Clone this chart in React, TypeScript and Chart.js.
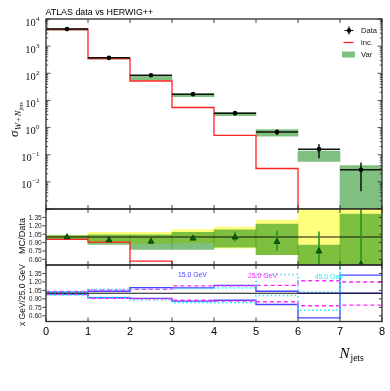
import React, { useEffect, useRef } from "react";
import { Chart, registerables } from "chart.js";

Chart.register(...registerables);

// ---------- layout ----------
const W = 390;
const H = 391;
const PLOT_LEFT = 46;
const PLOT_RIGHT = 382;
const TOP_PANEL = [19, 209];
const MID_PANEL = [209, 265];
const BOT_PANEL = [265, 321.5];

// ---------- data ----------
const BIN_EDGES = [0, 1, 2, 3, 4, 5, 6, 7, 8];
const BIN_CENTERS = [0.5, 1.5, 2.5, 3.5, 4.5, 5.5, 6.5, 7.5];
const X_TICKS = [0, 1, 2, 3, 4, 5, 6, 7, 8];
const X_TICK_LABELS = ["0", "1", "2", "3", "4", "5", "6", "7", "8"];

const LOG_MIN_EXP = -3;
const LOG_MAX_EXP = 4;
const LOG_LABEL_EXPS = [-2, -1, 0, 1, 2, 3, 4];
const RATIO_TICKS = [0.6, 0.75, 0.9, 1.05, 1.2, 1.35];
const RATIO_TICK_LABELS = ["0.60", "0.75", "0.90", "1.05", "1.20", "1.35"];

// top panel: data, inc. prediction, Var envelope
const DATA_Y = [4250, 370, 85, 17, 3.4, 0.68, 0.16, 0.028];
const DATA_LO = [4050, 352, 80, 15.8, 3.05, 0.53, 0.074, 0.0045];
const DATA_HI = [4450, 388, 90, 18.2, 3.75, 0.85, 0.245, 0.052];
const INC = [4100, 345, 52, 5.5, 0.52, 0.031, 1e-5, 1e-5];
const VAR_LO = [3900, 330, 56, 13.7, 2.75, 0.48, 0.057, 1e-5];
const VAR_HI = [4400, 375, 83, 17.5, 3.6, 0.85, 0.135, 0.04];

// middle panel: MC/Data
const RATIO_Y = [1.0, 0.945, 0.92, 0.975, 0.995, 0.915, 0.745, 0.51];
const RATIO_LO = [0.985, 0.925, 0.9, 0.955, 0.92, 0.75, 0.45, 0.2];
const RATIO_HI = [1.015, 0.965, 0.94, 0.995, 1.1, 1.11, 1.1, 1.48];
const YELLOW_LO = [0.975, 0.895, 0.885, 0.895, 0.8, 0.685, 0.3, 0.3];
const YELLOW_HI = [1.03, 1.085, 1.085, 1.133, 1.176, 1.3, 1.7, 1.7];
const GREEN_LO = [0.96, 0.867, 0.776, 0.776, 0.82, 0.685, 0.3, 0.3];
const GREEN_HI = [1.025, 1.04, 1.04, 1.085, 1.127, 1.23, 0.855, 1.41];
const INC_RATIO = [0.958, 0.91, 0.57, 0.32, 0.15, 0.046, 0.0, 0.0];
const REF_LINE = 1.0;

// bottom panel: cut variations
const BLUE_A = [1.02, 1.035, 1.1, 1.095, 1.14, 1.036, 1.0, 1.0];
const BLUE_B = [0.98, 0.92, 0.91, 0.86, 0.875, 0.8, 0.565, 1.32];
const MAG_A = [1.03, 1.06, 1.07, 1.13, 1.13, 1.14, 1.22, 1.2];
const MAG_B = [0.975, 0.91, 0.9, 0.875, 0.86, 0.85, 0.78, 0.79];
const CYAN_A = [1.02, 1.07, 1.08, 1.08, 1.095, 1.33, 1.02, 2.0];
const CYAN_B = [0.97, 0.93, 0.88, 0.83, 0.83, 0.96, 0.7, 2.0];
const CUT_LABELS = ["15.0 GeV", "25.0 GeV", "45.0 GeV"];
const CUT_LABEL_POS = [
  [3.14, 1.325],
  [4.81, 1.305],
  [6.4, 1.29],
];

// ---------- styles ----------
const SANS = "'Liberation Sans', Arial, sans-serif";
const SERIF = "'Liberation Serif', 'Times New Roman', serif";
const FRAME = "#2a2a2a";
const GREEN = "rgba(0,128,0,0.5)";
const YELLOW = "rgba(255,255,0,0.5)";
const RED = "rgb(255,35,35)";
const BLUE = "rgb(70,70,255)";
const MAGENTA = "rgb(255,40,255)";
const CYAN = "rgb(40,235,245)";

function fontStr(style: string, size: number, family: string) {
  return (style ? style + " " : "") + size.toFixed(2) + "px " + family;
}

function fitFont(ctx: CanvasRenderingContext2D, text: string, family: string, target: number, style = "") {
  ctx.font = fontStr(style, 10, family);
  const w = ctx.measureText(text).width || 1;
  const f = fontStr(style, (10 * target) / w, family);
  ctx.font = f;
  return f;
}

function stepPoints(vals: number[]) {
  const pts = vals.map((v, i) => ({ x: BIN_EDGES[i], y: v }));
  pts.push({ x: BIN_EDGES[BIN_EDGES.length - 1], y: vals[vals.length - 1] });
  return pts;
}

function band(lo: number[], hi: number[]) {
  return BIN_CENTERS.map((x, i) => ({ x, y: [lo[i], hi[i]] }));
}

function stepLine(vals: number[], color: string, width: number, dash: number[], order: number) {
  return {
    type: "line",
    data: stepPoints(vals),
    stepped: "before",
    borderColor: color,
    borderWidth: width,
    borderDash: dash,
    pointRadius: 0,
    fill: false,
    clip: 0,
    order,
  };
}

function bandSet(lo: number[], hi: number[], color: string, order: number) {
  return {
    type: "bar",
    data: band(lo, hi),
    backgroundColor: color,
    borderWidth: 0,
    grouped: false,
    barPercentage: 1,
    categoryPercentage: 1,
    clip: 0,
    order,
  };
}

function baseOptions(panel: number[], yScale: any) {
  return {
    responsive: false,
    animation: false,
    devicePixelRatio: 1,
    events: [],
    layout: {
      padding: {
        left: PLOT_LEFT,
        right: W - PLOT_RIGHT,
        top: panel[0],
        bottom: H - panel[1],
      },
    },
    plugins: {
      legend: { display: false },
      tooltip: { enabled: false },
      title: { display: false },
    },
    scales: {
      x: { type: "linear", min: 0, max: 8, display: false, offset: false },
      y: { ...yScale, display: false },
    },
  };
}

function drawFrameAndXTicks(chart: any) {
  const ctx = chart.ctx;
  const { left, right, top, bottom } = chart.chartArea;
  ctx.strokeStyle = FRAME;
  ctx.lineWidth = 1.3;
  ctx.strokeRect(left, top, right - left, bottom - top);
  ctx.lineWidth = 0.9;
  const xs = chart.scales.x;
  ctx.beginPath();
  for (const t of X_TICKS) {
    const px = xs.getPixelForValue(t);
    ctx.moveTo(px, top);
    ctx.lineTo(px, top + 4);
    ctx.moveTo(px, bottom);
    ctx.lineTo(px, bottom - 4);
  }
  ctx.stroke();
}

function drawRatioTicks(chart: any) {
  const ctx = chart.ctx;
  const { left, right } = chart.chartArea;
  const ys = chart.scales.y;
  ctx.strokeStyle = FRAME;
  ctx.lineWidth = 0.9;
  ctx.beginPath();
  RATIO_TICKS.forEach((t) => {
    const py = ys.getPixelForValue(t);
    ctx.moveTo(left - 3.5, py);
    ctx.lineTo(left - 0.5, py);
    ctx.moveTo(right, py);
    ctx.lineTo(right - 3, py);
  });
  ctx.stroke();
  ctx.fillStyle = "#222";
  fitFont(ctx, "1.35", SANS, 13);
  ctx.textAlign = "right";
  ctx.textBaseline = "middle";
  RATIO_TICKS.forEach((t, i) => {
    ctx.fillText(RATIO_TICK_LABELS[i], left - 4.2, ys.getPixelForValue(t) + 0.5);
  });
}

function rotatedText(ctx: CanvasRenderingContext2D, text: string, x: number, y: number, target: number, color: string, align: CanvasTextAlign) {
  ctx.save();
  ctx.translate(x, y);
  ctx.rotate(-Math.PI / 2);
  fitFont(ctx, text, SANS, target);
  ctx.fillStyle = color;
  ctx.textAlign = align;
  ctx.textBaseline = "alphabetic";
  ctx.fillText(text, 0, 0);
  ctx.restore();
}

const topPlugin = {
  id: "topPanel",
  beforeDatasetDraw(chart: any, args: any) {
    if (args.index !== 0) return;
    const ctx = chart.ctx;
    const xs = chart.scales.x;
    const ys = chart.scales.y;
    const a = chart.chartArea;
    ctx.save();
    ctx.beginPath();
    ctx.rect(a.left, a.top, a.right - a.left, a.bottom - a.top);
    ctx.clip();
    ctx.strokeStyle = "#111";
    ctx.lineWidth = 1.5;
    ctx.beginPath();
    for (let i = 0; i < BIN_CENTERS.length; i++) {
      const px = xs.getPixelForValue(BIN_CENTERS[i]);
      const py = ys.getPixelForValue(DATA_Y[i]);
      ctx.moveTo(xs.getPixelForValue(BIN_EDGES[i]), py);
      ctx.lineTo(xs.getPixelForValue(BIN_EDGES[i + 1]), py);
      ctx.moveTo(px, ys.getPixelForValue(DATA_LO[i]));
      ctx.lineTo(px, ys.getPixelForValue(DATA_HI[i]));
    }
    ctx.stroke();
    ctx.restore();
  },
  afterDraw(chart: any) {
    const ctx = chart.ctx;
    const { left, right } = chart.chartArea;
    const ys = chart.scales.y;
    ctx.save();
    drawFrameAndXTicks(chart);
    // log ticks
    ctx.lineWidth = 0.8;
    ctx.beginPath();
    for (let e = LOG_MIN_EXP; e <= LOG_MAX_EXP; e++) {
      const py = ys.getPixelForValue(Math.pow(10, e));
      ctx.moveTo(left, py);
      ctx.lineTo(left + 4.5, py);
      ctx.moveTo(right, py);
      ctx.lineTo(right - 4.5, py);
      if (e < LOG_MAX_EXP) {
        for (let m = 2; m <= 9; m++) {
          const pm = ys.getPixelForValue(m * Math.pow(10, e));
          ctx.moveTo(left, pm);
          ctx.lineTo(left + 2.2, pm);
          ctx.moveTo(right, pm);
          ctx.lineTo(right - 2.2, pm);
        }
      }
    }
    ctx.stroke();
    // labels 10^n
    ctx.fillStyle = "#111";
    ctx.textBaseline = "alphabetic";
    for (const e of LOG_LABEL_EXPS) {
      const py = ys.getPixelForValue(Math.pow(10, e));
      const exp = e < 0 ? "\u2212" + Math.abs(e) : String(e);
      ctx.font = fontStr("", 7, SERIF);
      const ew = ctx.measureText(exp).width;
      const rx = 39.5;
      ctx.textAlign = "left";
      ctx.fillText(exp, rx - ew, py + 1.5);
      ctx.font = fontStr("", 10.5, SERIF);
      ctx.textAlign = "right";
      ctx.fillText("10", rx - ew - 0.3, py + 6.5);
    }
    // title
    fitFont(ctx, "ATLAS data vs HERWIG++", SANS, 108);
    ctx.textAlign = "left";
    ctx.fillStyle = "#000";
    ctx.fillText("ATLAS data vs HERWIG++", 45.5, 15);
    // y title  sigma_{W+N_jets}
    ctx.save();
    ctx.translate(18, 137);
    ctx.rotate(-Math.PI / 2);
    ctx.fillStyle = "#000";
    ctx.textAlign = "left";
    ctx.font = fontStr("italic", 13, SERIF);
    ctx.fillText("\u03c3", 0, 0);
    let xo = ctx.measureText("\u03c3").width + 0.5;
    ctx.font = fontStr("italic", 8.5, SERIF);
    ctx.fillText("W", xo, 3);
    xo += ctx.measureText("W").width + 1;
    ctx.font = fontStr("", 8.5, SERIF);
    ctx.fillText("+", xo, 3);
    xo += ctx.measureText("+").width + 1;
    ctx.font = fontStr("italic", 8.5, SERIF);
    ctx.fillText("N", xo, 3);
    xo += ctx.measureText("N").width;
    ctx.font = fontStr("", 6, SERIF);
    ctx.fillText("jets", xo, 5);
    ctx.restore();
    // legend
    fitFont(ctx, "Data", SANS, 16);
    ctx.fillStyle = "#111";
    ctx.textBaseline = "middle";
    ctx.textAlign = "left";
    ctx.fillText("Data", 361, 30.5);
    ctx.fillText("inc.", 361, 42.5);
    ctx.fillText("Var", 361, 54.5);
    ctx.strokeStyle = "#000";
    ctx.lineWidth = 1.2;
    ctx.beginPath();
    ctx.moveTo(344.5, 30.5);
    ctx.lineTo(353.5, 30.5);
    ctx.moveTo(349, 26.5);
    ctx.lineTo(349, 34.5);
    ctx.stroke();
    ctx.beginPath();
    ctx.arc(349, 30.5, 2.2, 0, Math.PI * 2);
    ctx.fillStyle = "#000";
    ctx.fill();
    ctx.strokeStyle = RED;
    ctx.lineWidth = 1.3;
    ctx.beginPath();
    ctx.moveTo(343.5, 42.5);
    ctx.lineTo(353.5, 42.5);
    ctx.stroke();
    ctx.fillStyle = GREEN;
    ctx.fillRect(342, 51.5, 13, 6);
    ctx.restore();
  },
};

const midPlugin = {
  id: "midPanel",
  beforeDatasetDraw(chart: any, args: any) {
    if (args.index !== 0) return;
    const ctx = chart.ctx;
    const xs = chart.scales.x;
    const ys = chart.scales.y;
    const a = chart.chartArea;
    ctx.save();
    ctx.beginPath();
    ctx.rect(a.left, a.top, a.right - a.left, a.bottom - a.top);
    ctx.clip();
    ctx.strokeStyle = "rgb(40,150,30)";
    ctx.lineWidth = 1.6;
    ctx.beginPath();
    for (let i = 0; i < BIN_CENTERS.length; i++) {
      const px = xs.getPixelForValue(BIN_CENTERS[i]);
      ctx.moveTo(px, ys.getPixelForValue(RATIO_LO[i]));
      ctx.lineTo(px, ys.getPixelForValue(RATIO_HI[i]));
    }
    ctx.stroke();
    ctx.restore();
  },
  afterDraw(chart: any) {
    const ctx = chart.ctx;
    ctx.save();
    drawFrameAndXTicks(chart);
    drawRatioTicks(chart);
    rotatedText(ctx, "MC/Data", 25, 236, 36, "#111", "center");
    ctx.restore();
  },
};

const botPlugin = {
  id: "botPanel",
  afterDraw(chart: any) {
    const ctx = chart.ctx;
    const xs = chart.scales.x;
    const ys = chart.scales.y;
    const { bottom } = chart.chartArea;
    ctx.save();
    drawFrameAndXTicks(chart);
    drawRatioTicks(chart);
    rotatedText(ctx, "x GeV/25.0 GeV", 25, 326, 62, "#111", "left");
    // x tick labels
    ctx.fillStyle = "#000";
    ctx.font = fontStr("", 11, SANS);
    ctx.textAlign = "center";
    ctx.textBaseline = "alphabetic";
    X_TICKS.forEach((t, i) => {
      ctx.fillText(X_TICK_LABELS[i], xs.getPixelForValue(t), bottom + 13.5);
    });
    // N_jets
    ctx.textAlign = "left";
    ctx.font = fontStr("italic", 15, SERIF);
    ctx.fillText("N", 339.5, 358);
    ctx.font = fontStr("", 9.5, SERIF);
    ctx.fillText("jets", 350.5, 360.5);
    // cut labels
    const cols = [BLUE, MAGENTA, CYAN];
    fitFont(ctx, "15.0 GeV", SANS, 29);
    ctx.textBaseline = "middle";
    CUT_LABELS.forEach((lab, i) => {
      ctx.fillStyle = cols[i];
      ctx.fillText(lab, xs.getPixelForValue(CUT_LABEL_POS[i][0]), ys.getPixelForValue(CUT_LABEL_POS[i][1]));
    });
    ctx.restore();
  },
};

function topConfig(): any {
  return {
    type: "bar",
    data: {
      datasets: [
        {
          type: "line",
          data: BIN_CENTERS.map((x, i) => ({ x, y: DATA_Y[i] })),
          showLine: false,
          pointRadius: 2.3,
          pointBackgroundColor: "#000",
          pointBorderWidth: 0,
          order: 0,
        },
        stepLine(INC, RED, 1.3, [], 1),
        bandSet(VAR_LO, VAR_HI, GREEN, 2),
      ],
    },
    options: baseOptions(TOP_PANEL, { type: "logarithmic", min: 1e-3, max: 1e4 }),
    plugins: [topPlugin],
  };
}

function midConfig(): any {
  return {
    type: "bar",
    data: {
      datasets: [
        {
          type: "line",
          data: BIN_CENTERS.map((x, i) => ({ x, y: RATIO_Y[i] })),
          showLine: false,
          pointStyle: "triangle",
          pointRadius: 3.4,
          pointBackgroundColor: "rgb(10,100,10)",
          pointBorderColor: "rgb(0,55,0)",
          pointBorderWidth: 0.8,
          order: 0,
        },
        {
          type: "line",
          data: [
            { x: 0, y: REF_LINE },
            { x: 8, y: REF_LINE },
          ],
          borderColor: "#111",
          borderWidth: 1.2,
          pointRadius: 0,
          clip: 0,
          order: 1,
        },
        stepLine(INC_RATIO, RED, 1.3, [], 2),
        bandSet(GREEN_LO, GREEN_HI, GREEN, 3),
        bandSet(YELLOW_LO, YELLOW_HI, YELLOW, 4),
      ],
    },
    options: baseOptions(MID_PANEL, { type: "linear", min: 0.5, max: 1.5 }),
    plugins: [midPlugin],
  };
}

function botConfig(): any {
  return {
    type: "line",
    data: {
      datasets: [
        {
          type: "line",
          data: [
            { x: 0, y: REF_LINE },
            { x: 8, y: REF_LINE },
          ],
          borderColor: "#111",
          borderWidth: 1.2,
          pointRadius: 0,
          clip: 0,
          order: 0,
        },
        stepLine(BLUE_A, BLUE, 1.4, [], 3),
        stepLine(BLUE_B, BLUE, 1.4, [], 3),
        stepLine(MAG_A, MAGENTA, 1.4, [4, 3], 2),
        stepLine(MAG_B, MAGENTA, 1.4, [4, 3], 2),
        stepLine(CYAN_A, CYAN, 1.5, [1.5, 2.5], 1),
        stepLine(CYAN_B, CYAN, 1.5, [1.5, 2.5], 1),
      ],
    },
    options: baseOptions(BOT_PANEL, { type: "linear", min: 0.5, max: 1.5 }),
    plugins: [botPlugin],
  };
}

export default function App() {
  const r1 = useRef<HTMLCanvasElement>(null);
  const r2 = useRef<HTMLCanvasElement>(null);
  const r3 = useRef<HTMLCanvasElement>(null);

  useEffect(() => {
    const charts = [
      new Chart(r1.current as HTMLCanvasElement, topConfig()),
      new Chart(r2.current as HTMLCanvasElement, midConfig()),
      new Chart(r3.current as HTMLCanvasElement, botConfig()),
    ];
    return () => charts.forEach((c) => c.destroy());
  }, []);

  const cs: React.CSSProperties = { position: "absolute", left: 0, top: 0, width: W, height: H };
  return (
    <div style={{ position: "fixed", left: 0, top: 0, width: W, height: H, background: "#fff" }}>
      <canvas ref={r1} width={W} height={H} style={cs} />
      <canvas ref={r2} width={W} height={H} style={cs} />
      <canvas ref={r3} width={W} height={H} style={cs} />
    </div>
  );
}
